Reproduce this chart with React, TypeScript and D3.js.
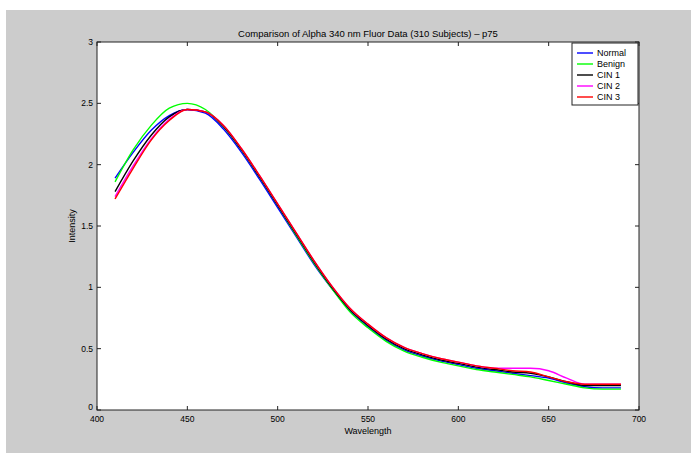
import React from "react";
import * as d3 from "d3";

// emission wavelengths (nm)
const wavelengths = [410, 420, 430, 440, 450, 460, 470, 480, 490, 500, 510, 520, 530, 540, 550, 560, 570, 580, 590, 600, 610, 620, 630, 640, 650, 660, 670, 680, 690];

const normal = [1.89, 2.10, 2.28, 2.40, 2.45, 2.42, 2.29, 2.10, 1.88, 1.65, 1.42, 1.19, 0.99, 0.81, 0.68, 0.57, 0.49, 0.44, 0.40, 0.37, 0.34, 0.32, 0.30, 0.28, 0.26, 0.22, 0.19, 0.18, 0.18];
const benign = [1.86, 2.12, 2.32, 2.46, 2.50, 2.45, 2.31, 2.12, 1.90, 1.67, 1.43, 1.20, 0.99, 0.80, 0.67, 0.56, 0.48, 0.43, 0.39, 0.36, 0.33, 0.31, 0.29, 0.27, 0.24, 0.21, 0.18, 0.17, 0.17];
const cin1 = [1.78, 2.03, 2.24, 2.39, 2.45, 2.43, 2.31, 2.12, 1.90, 1.67, 1.44, 1.21, 1.00, 0.82, 0.69, 0.58, 0.50, 0.45, 0.41, 0.38, 0.35, 0.33, 0.31, 0.30, 0.27, 0.23, 0.20, 0.20, 0.20];
const cin2 = [1.74, 1.99, 2.21, 2.37, 2.45, 2.43, 2.32, 2.13, 1.91, 1.68, 1.45, 1.22, 1.01, 0.83, 0.70, 0.59, 0.51, 0.46, 0.42, 0.39, 0.36, 0.34, 0.34, 0.34, 0.32, 0.26, 0.21, 0.21, 0.21];
const cin3 = [1.72, 1.97, 2.20, 2.36, 2.45, 2.43, 2.32, 2.13, 1.91, 1.68, 1.45, 1.22, 1.01, 0.83, 0.70, 0.59, 0.51, 0.46, 0.42, 0.39, 0.36, 0.34, 0.32, 0.31, 0.27, 0.23, 0.21, 0.21, 0.21];

const seriesNames = ["Normal", "Benign", "CIN 1", "CIN 2", "CIN 3"];
const seriesColors = ["#0000ff", "#00ff00", "#000000", "#ff00ff", "#ff0000"];
const seriesValues = [normal, benign, cin1, cin2, cin3];

const xTicks = [400, 450, 500, 550, 600, 650, 700];
const yTicks = [0, 0.5, 1, 1.5, 2, 2.5, 3];

const title = "Comparison of Alpha 340 nm Fluor Data (310 Subjects) \u2013 p75";

const App = () => {
  const width = 691;
  const height = 453;
  const left = 97;
  const right = 639;
  const top = 42;
  const bottom = 410;
  const font = "'Liberation Sans', Arial, Helvetica, sans-serif";
  const axisColor = "#222";

  const x = d3.scaleLinear().domain([400, 700]).range([left, right]);
  const y = d3.scaleLinear().domain([0, 3]).range([bottom, top]);

  const line = d3
    .line<number>()
    .x((_, i) => x(wavelengths[i]))
    .y((d) => y(d))
    .curve(d3.curveMonotoneX);

  // legend placement
  const lgX = 572;
  const lgY = 43;
  const lgW = 66;
  const lgH = 62;
  const lgRow = 11;

  return (
    <svg width={width} height={height} style={{ position: "absolute", left: 0, top: 0 }}>
      <rect x={0} y={0} width={width} height={height} fill="#ffffff" />
      <rect x={6} y={10} width={width - 6} height={height - 10} fill="#cccccc" />
      <rect x={left} y={top} width={right - left} height={bottom - top} fill="#ffffff" />

      {/* series */}
      {seriesValues.map((vals, i) => (
        <path key={seriesNames[i]} d={line(vals) || ""} fill="none" stroke={seriesColors[i]} strokeWidth={1.4} />
      ))}

      {/* frame */}
      <rect x={left} y={top} width={right - left} height={bottom - top} fill="none" stroke={axisColor} strokeWidth={1} />

      {/* x ticks */}
      {xTicks.map((t) => (
        <g key={"x" + t}>
          <line x1={x(t)} x2={x(t)} y1={bottom} y2={bottom - 4} stroke={axisColor} />
          <line x1={x(t)} x2={x(t)} y1={top} y2={top + 4} stroke={axisColor} />
          <text x={x(t)} y={422} textAnchor="middle" fontSize={8.5} fontFamily={font} fill="#000">
            {t}
          </text>
        </g>
      ))}

      {/* y ticks */}
      {yTicks.map((t) => (
        <g key={"y" + t}>
          <line x1={left} x2={left + 4} y1={y(t)} y2={y(t)} stroke={axisColor} />
          <line x1={right} x2={right - 4} y1={y(t)} y2={y(t)} stroke={axisColor} />
          <text x={left - 4} y={y(t) + (t === 0 ? 0 : 3)} textAnchor="end" fontSize={8.5} fontFamily={font} fill="#000">
            {t}
          </text>
        </g>
      ))}

      {/* labels */}
      <text x={(left + right) / 2} y={37} textAnchor="middle" fontSize={9.5} fontFamily={font} fill="#000">
        {title}
      </text>
      <text x={(left + right) / 2} y={434} textAnchor="middle" fontSize={9} fontFamily={font} fill="#000">
        Wavelength
      </text>
      <text
        transform={`translate(75,${(top + bottom) / 2}) rotate(-90)`}
        textAnchor="middle"
        fontSize={9}
        fontFamily={font}
        fill="#000"
      >
        Intensity
      </text>

      {/* legend */}
      <rect x={lgX} y={lgY} width={lgW} height={lgH} fill="#ffffff" stroke={axisColor} strokeWidth={1} />
      {seriesNames.map((name, i) => (
        <g key={"lg" + name}>
          <line
            x1={lgX + 5}
            x2={lgX + 21}
            y1={lgY + 10 + i * lgRow}
            y2={lgY + 10 + i * lgRow}
            stroke={seriesColors[i]}
            strokeWidth={1.4}
          />
          <text x={lgX + 25} y={lgY + 13 + i * lgRow} fontSize={9} fontFamily={font} fill="#000">
            {name}
          </text>
        </g>
      ))}
    </svg>
  );
};

export default App;
